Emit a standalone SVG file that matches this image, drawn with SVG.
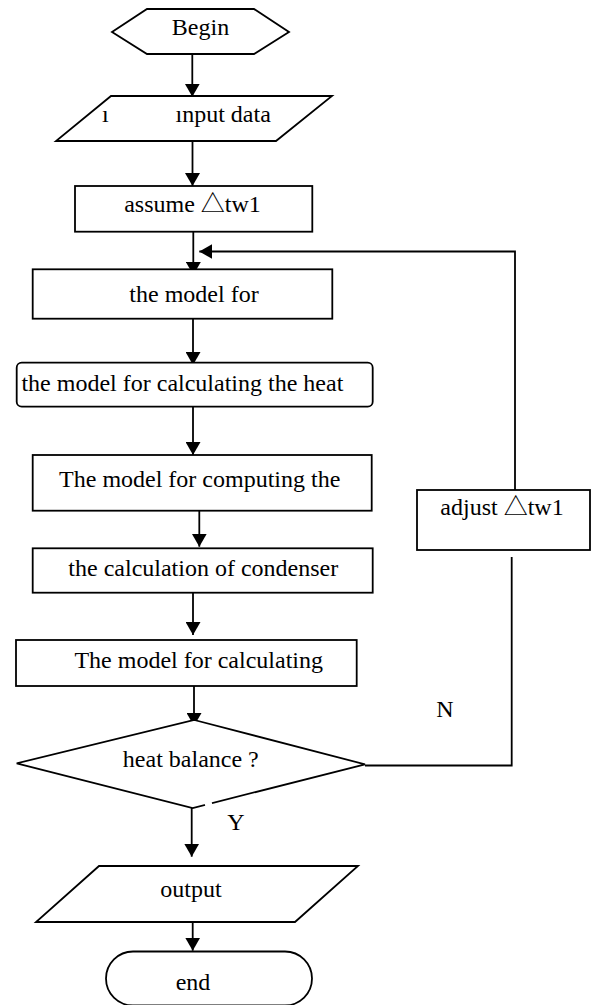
<svg xmlns="http://www.w3.org/2000/svg" width="595" height="1005" viewBox="0 0 595 1005">
<defs>
<marker id="arr" markerUnits="userSpaceOnUse" markerWidth="14" markerHeight="15" refX="13" refY="7.5" orient="auto">
<path d="M0,0 L13,7.5 L0,15 Z" fill="#000"/>
</marker>
<style>
.s{fill:#fff;stroke:#000;stroke-width:1.8}
.t{font-family:'Liberation Serif','DejaVu Serif',serif;font-size:24px;fill:#000;text-anchor:middle}
.cjk{font-family:'Liberation Serif','Noto Sans CJK SC',sans-serif}
.c{fill:none;stroke:#000;stroke-width:1.8}
</style>
</defs>
<rect width="595" height="1005" fill="#fff"/>
<g id="connectors">
<line class="c" x1="192.3" y1="54" x2="192.3" y2="96.7" marker-end="url(#arr)"/>
<line class="c" x1="192.5" y1="141" x2="192.5" y2="186" marker-end="url(#arr)"/>
<line class="c" x1="193.3" y1="231.7" x2="193.3" y2="275" marker-end="url(#arr)"/>
<line class="c" x1="193" y1="318.7" x2="193" y2="365" marker-end="url(#arr)"/>
<line class="c" x1="193" y1="406.7" x2="193" y2="455" marker-end="url(#arr)"/>
<line class="c" x1="199.3" y1="510.7" x2="199.3" y2="546.7" marker-end="url(#arr)"/>
<line class="c" x1="193" y1="592.7" x2="193" y2="635" marker-end="url(#arr)"/>
<line class="c" x1="194" y1="681.7" x2="194" y2="726" marker-end="url(#arr)"/>
<line class="c" x1="191.7" y1="807.3" x2="191.7" y2="856.7" marker-end="url(#arr)"/>
<line class="c" x1="192.7" y1="916.7" x2="192.7" y2="950.7" marker-end="url(#arr)"/>
<polyline class="c" points="365,765.5 511.7,765.5 511.7,557"/>
<polyline class="c" points="515,490 515,251.5 199.3,251.5" marker-end="url(#arr)"/>
</g>
<g id="begin">
<polygon class="s" points="112,32 147,9 254,9 289,32 254,54 147,54"/>
<text class="t" x="200.5" y="35">Begin</text>
</g>
<g id="input">
<polygon class="s" points="111,96 332,96 276,141 56,141"/>
<text class="t" style="text-anchor:start" y="122.3"><tspan x="102">ı</tspan><tspan x="175.5">ınput data</tspan></text>
</g>
<g id="assume">
<rect class="s" x="75" y="186" width="237.3" height="45.7"/>
<text class="t" x="192.5" y="211.7">assume  <tspan class="cjk">△</tspan>tw1</text>
</g>
<g id="model1">
<rect class="s" x="32.7" y="269.3" width="299.6" height="49.4"/>
<text class="t" x="194" y="301.7">the model for</text>
</g>
<g id="heatmodel">
<rect class="s" x="16.7" y="362.7" width="356" height="44" rx="5"/>
<text class="t" x="182.4" y="390.7">the model for calculating the heat</text>
</g>
<g id="computing">
<rect class="s" x="32.7" y="455" width="339" height="55.7"/>
<text class="t" x="199.7" y="486.7">The model for computing the</text>
</g>
<g id="condenser">
<rect class="s" x="32.7" y="548.3" width="340" height="44.4"/>
<text class="t" x="203.3" y="576">the calculation of condenser</text>
</g>
<g id="calculating">
<rect class="s" x="16" y="640" width="340.7" height="46"/>
<text class="t" x="198.7" y="668.3">The model for calculating</text>
</g>
<g id="balance">
<polygon class="s" points="194.3,720 365,764.3 192.7,808 16.7,763.3"/>
<line x1="205" y1="805" x2="212" y2="803.2" stroke="#fff" stroke-width="4"/>
<text class="t" x="190.8" y="766.7">heat balance ?</text>
</g>
<g id="adjust">
<rect class="s" x="417" y="490" width="173" height="60"/>
<text class="t" x="502" y="515">adjust  <tspan class="cjk">△</tspan>tw1</text>
</g>
<g id="labels">
<text class="t" x="445" y="716.7">N</text>
<text class="t" x="236" y="830">Y</text>
</g>
<g id="output">
<polygon class="s" points="99,866 358,866 295,922 36,922"/>
<text class="t" x="191" y="896.7">output</text>
</g>
<g id="end">
<rect class="s" x="106" y="951.5" width="206" height="54" rx="27"/>
<text class="t" x="193" y="990">end</text>
</g>
</svg>
